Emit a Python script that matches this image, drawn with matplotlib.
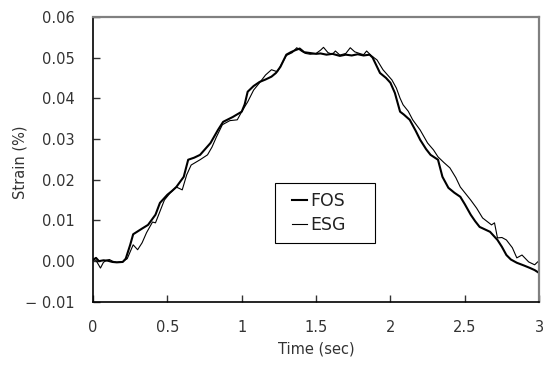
import matplotlib
matplotlib.use('Agg')
import matplotlib.pyplot as plt
from matplotlib.patches import Rectangle
from matplotlib.ticker import FixedLocator

# FOS readings (time in sec, strain in %)
fos_t = [0.00, 0.02, 0.04, 0.07, 0.10, 0.13, 0.16, 0.20, 0.22, 0.25, 0.27, 0.30, 0.33, 0.37,
         0.42, 0.45, 0.50, 0.53, 0.56, 0.61, 0.64, 0.68, 0.72, 0.79, 0.84, 0.875, 0.94, 1.00,
         1.02, 1.04, 1.08, 1.12, 1.16, 1.20, 1.23, 1.26, 1.30, 1.33, 1.36, 1.39, 1.42, 1.46,
         1.50, 1.53, 1.57, 1.61, 1.66, 1.70, 1.74, 1.78, 1.82, 1.86, 1.88, 1.93, 1.97, 2.00,
         2.03, 2.065, 2.09, 2.13, 2.17, 2.20, 2.24, 2.27, 2.32, 2.35, 2.39, 2.43, 2.47, 2.50,
         2.54, 2.57, 2.60, 2.67, 2.72, 2.75, 2.78, 2.81, 2.85, 2.90, 2.94, 2.97, 3.00]
fos = [0.0003, 0.0008, 0.0000, 0.0002, 0.0001, -0.0002, -0.0003, -0.0002, 0.0006, 0.0040, 0.0066,
       0.0073, 0.0080, 0.0089, 0.0114, 0.0143, 0.0163, 0.0172, 0.0182, 0.0207, 0.0249, 0.0254,
       0.0261, 0.0290, 0.0322, 0.0342, 0.0354, 0.0367, 0.0385, 0.0416, 0.0430, 0.0440, 0.0446,
       0.0453, 0.0462, 0.0477, 0.0507, 0.0513, 0.0518, 0.0522, 0.0513, 0.0511, 0.0509, 0.0510,
       0.0507, 0.0509, 0.0504, 0.0507, 0.0505, 0.0508, 0.0505, 0.0507, 0.0500, 0.0462, 0.0450,
       0.0438, 0.0413, 0.0367, 0.0360, 0.0347, 0.0320, 0.0298, 0.0275, 0.0261, 0.0249, 0.0207,
       0.0180, 0.0168, 0.0158, 0.0140, 0.0114, 0.0098, 0.0084, 0.0072, 0.0052, 0.0035, 0.0015,
       0.0004, -0.0004, -0.0011, -0.0017, -0.0022, -0.0029]

# ESG readings
esg_t = [0.00, 0.02, 0.05, 0.07, 0.09, 0.11, 0.13, 0.16, 0.20, 0.23, 0.27, 0.30, 0.33, 0.36,
         0.40, 0.42, 0.45, 0.48, 0.52, 0.56, 0.60, 0.63, 0.66, 0.72, 0.77, 0.80, 0.83, 0.87,
         0.92, 0.97, 1.00, 1.04, 1.08, 1.12, 1.16, 1.20, 1.24, 1.27, 1.30, 1.34, 1.37, 1.40,
         1.43, 1.46, 1.50, 1.53, 1.55, 1.58, 1.61, 1.63, 1.66, 1.70, 1.73, 1.76, 1.80, 1.82,
         1.84, 1.87, 1.91, 1.95, 2.01, 2.04, 2.065, 2.085, 2.12, 2.15, 2.20, 2.25, 2.29, 2.32,
         2.36, 2.40, 2.44, 2.47, 2.54, 2.58, 2.62, 2.68, 2.70, 2.72, 2.75, 2.78, 2.82, 2.85,
         2.885, 2.93, 2.97, 2.99, 3.00]
esg = [0.0003, 0.0002, -0.0017, -0.0003, 0.0002, 0.0004, 0.0000, -0.0003, -0.0001, 0.0006, 0.0040,
       0.0028, 0.0045, 0.0070, 0.0096, 0.0094, 0.0122, 0.0150, 0.0168, 0.0182, 0.0175, 0.0212,
       0.0236, 0.0249, 0.0261, 0.0280, 0.0305, 0.0335, 0.0345, 0.0347, 0.0367, 0.0391, 0.0420,
       0.0438, 0.0457, 0.0470, 0.0465, 0.0485, 0.0505, 0.0512, 0.0524, 0.0516, 0.0510, 0.0508,
       0.0510, 0.0518, 0.0525, 0.0512, 0.0508, 0.0516, 0.0506, 0.0510, 0.0524, 0.0514, 0.0509,
       0.0507, 0.0516, 0.0505, 0.0494, 0.0470, 0.0445, 0.0425, 0.0400, 0.0384, 0.0368, 0.0347,
       0.0322, 0.0290, 0.0273, 0.0256, 0.0242, 0.0229, 0.0205, 0.0182, 0.0150, 0.0130, 0.0106,
       0.0089, 0.0094, 0.0057, 0.0058, 0.0052, 0.0033, 0.0008, 0.0015, -0.0002, -0.0009, -0.0002,
       0.0000]

xticks = [0, 0.5, 1, 1.5, 2, 2.5, 3]
xticklabels = ['0', '0.5', '1', '1.5', '2', '2.5', '3']
yticks = [-0.01, 0.0, 0.01, 0.02, 0.03, 0.04, 0.05, 0.06]
yticklabels = ['\u2212 0.01', '0.00', '0.01', '0.02', '0.03', '0.04', '0.05', '0.06']

plt.rcParams['font.family'] = ['DejaVu Sans']

fig = plt.figure(figsize=(5.44, 3.65), dpi=100)
ax = fig.add_axes([0.171, 0.173, 0.82, 0.781])

ax.plot(fos_t, fos, color='black', lw=1.5, label='FOS')
ax.plot(esg_t, esg, color='black', lw=0.8, label='ESG')

ax.set_xlim(0, 3)
ax.set_ylim(-0.01, 0.06)
ax.xaxis.set_major_locator(FixedLocator(xticks))
ax.yaxis.set_major_locator(FixedLocator(yticks))
ax.set_xticklabels(xticklabels)
ax.set_yticklabels(yticklabels)
ax.tick_params(direction='in', length=5, width=1, labelsize=10.5, colors='#333333')
ax.tick_params(axis='x', pad=13)
ax.tick_params(axis='y', pad=13)

for side in ['left', 'bottom']:
    ax.spines[side].set_color('black')
    ax.spines[side].set_linewidth(1.2)
for side in ['top', 'right']:
    ax.spines[side].set_color('#808080')
    ax.spines[side].set_linewidth(1.6)

ax.set_xlabel('Time (sec)', fontsize=10.5, color='#333333')
ax.set_ylabel('Strain (%)', fontsize=10.5, color='#333333')
ax.xaxis.set_label_coords(0.5, -0.14)
ax.yaxis.set_label_coords(-0.148, 0.49)

# legend box is wider than its content, so draw the frame separately
ax.add_patch(Rectangle((0.408, 0.207), 0.224, 0.21, transform=ax.transAxes,
                       fill=False, edgecolor='black', lw=0.8, zorder=5))
leg = ax.legend(loc='center left', bbox_to_anchor=(0.445, 0.312), fontsize=12.5,
                handlelength=0.9, handletextpad=0.2, borderpad=0, labelspacing=0.35,
                frameon=False, borderaxespad=0)
for text in leg.get_texts():
    text.set_color('#222222')

fig.savefig('out.png', dpi=100)
